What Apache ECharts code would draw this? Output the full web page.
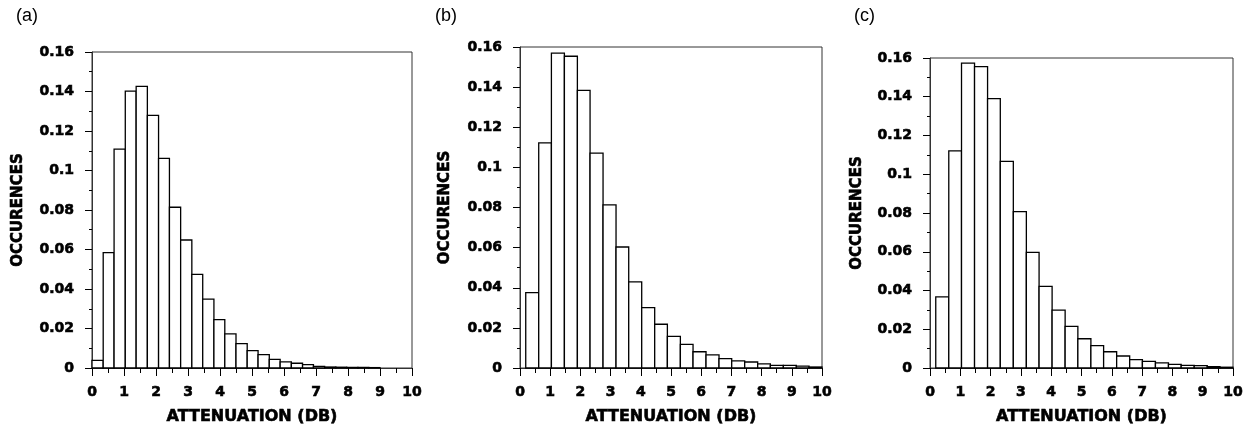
<!DOCTYPE html>
<html>
<head>
<meta charset="utf-8">
<script src="https://cdn.jsdelivr.net/npm/echarts@6/dist/echarts.min.js"></script>
<style>
  html, body { margin: 0; padding: 0; background: #fff; }
  #chart { width: 1258px; height: 437px; }
</style>
</head>
<body>
<div id="chart"></div>
<script>
// ---- Data ----
const panelLabels = ['(a)', '(b)', '(c)'];
const xTitle = 'ATTENUATION (DB)';
const yTitle = 'OCCURENCES';

// Bin edges (dB) for each panel
const edgesA = [0, 0.35, 0.69, 1.04, 1.38, 1.73, 2.08, 2.42, 2.77, 3.12, 3.46, 3.81, 4.15, 4.5,
                4.85, 5.19, 5.54, 5.88, 6.23, 6.58, 6.92, 7.27, 7.62, 7.96, 8.31, 8.65, 9.0];
const valuesA = [0.0039, 0.0584, 0.1108, 0.1402, 0.1426, 0.1279, 0.1061, 0.0814, 0.0648, 0.0474,
                 0.0349, 0.0245, 0.0173, 0.0123, 0.0088, 0.0068, 0.0044, 0.0031, 0.0024, 0.0017,
                 0.0008, 0.0005, 0.0004, 0.0003, 0.0003, 0.0002];

const edgesB = [0.19, 0.62, 1.04, 1.47, 1.9, 2.32, 2.75, 3.18, 3.6, 4.03, 4.46, 4.88, 5.31, 5.73,
                6.16, 6.59, 7.01, 7.44, 7.87, 8.29, 8.72, 9.15, 9.57, 10.0];
const valuesB = [0.0376, 0.1122, 0.1569, 0.1554, 0.1384, 0.1071, 0.0813, 0.0603, 0.0429, 0.0301,
                 0.0218, 0.0158, 0.0118, 0.0081, 0.0065, 0.0047, 0.0036, 0.0030, 0.0021, 0.0013,
                 0.0013, 0.0009, 0.0005];

const edgesC = [0.19, 0.62, 1.04, 1.47, 1.9, 2.32, 2.75, 3.18, 3.6, 4.03, 4.46, 4.88, 5.31, 5.73,
                6.16, 6.59, 7.01, 7.44, 7.87, 8.29, 8.72, 9.15, 9.57, 10.0];
const valuesC = [0.0367, 0.1121, 0.1574, 0.1555, 0.1390, 0.1066, 0.0807, 0.0597, 0.0421, 0.0299,
                 0.0215, 0.0151, 0.0115, 0.0084, 0.0062, 0.0043, 0.0034, 0.0026, 0.0019, 0.0014,
                 0.0012, 0.0007, 0.0004];

const panels = [
  { edges: edgesA, values: valuesA },
  { edges: edgesB, values: valuesB },
  { edges: edgesC, values: valuesC }
];

// ---- Layout ----
const grids = [
  { left: 92, top: 52, width: 320, height: 316 },
  { left: 520, top: 47, width: 302, height: 321 },
  { left: 930, top: 58, width: 303, height: 310 }
];
const labelPos = [ { left: 16, top: 7 }, { left: 435, top: 7 }, { left: 854, top: 7 } ];
const yNameGap = [66, 67, 65];

const axisColor = '#333';
const boldFont = {
  fontFamily: 'DejaVu Sans', fontWeight: 'bold', color: '#000',
  textBorderColor: '#000', textBorderWidth: 0.6
};

const chart = echarts.init(document.getElementById('chart'), null, { renderer: 'canvas' });

const option = {
  animation: false,
  backgroundColor: '#fff',
  title: panelLabels.map((t, i) => ({
    text: t,
    left: labelPos[i].left,
    top: labelPos[i].top,
    padding: 0,
    textStyle: { fontFamily: 'Liberation Sans', fontWeight: 'normal', fontSize: 18, color: '#000' }
  })),
  grid: grids.map(g => Object.assign({ show: true, borderColor: axisColor, borderWidth: 1, backgroundColor: 'transparent' }, g)),
  xAxis: grids.map((g, i) => ({
    type: 'value',
    gridIndex: i,
    min: 0, max: 10, interval: 1,
    name: xTitle,
    nameLocation: 'middle',
    nameGap: 41,
    nameTextStyle: Object.assign({ fontSize: 16 }, boldFont),
    axisLine: { show: true, onZero: false, lineStyle: { color: axisColor, width: 1 } },
    axisTick: { show: true, inside: false, length: 8, lineStyle: { color: '#000', width: 1 } },
    minorTick: { show: true, splitNumber: 2, length: 5, lineStyle: { color: '#000', width: 1 } },
    axisLabel: Object.assign({ fontSize: 14, margin: 17 }, boldFont),
    splitLine: { show: false },
    minorSplitLine: { show: false }
  })),
  yAxis: grids.map((g, i) => ({
    type: 'value',
    gridIndex: i,
    min: 0, max: 0.16, interval: 0.02,
    name: yTitle,
    nameLocation: 'middle',
    nameGap: yNameGap[i],
    nameTextStyle: Object.assign({ fontSize: 15 }, boldFont),
    axisLine: { show: true, lineStyle: { color: axisColor, width: 1 } },
    axisTick: { show: true, inside: false, length: 7, lineStyle: { color: '#000', width: 1 } },
    minorTick: { show: true, splitNumber: 2, length: 3, lineStyle: { color: '#000', width: 1 } },
    axisLabel: Object.assign({ fontSize: 14, margin: 18 }, boldFont),
    splitLine: { show: false },
    minorSplitLine: { show: false }
  })),
  series: panels.map((p, i) => ({
    type: 'custom',
    xAxisIndex: i,
    yAxisIndex: i,
    encode: { x: [0, 1], y: 2 },
    data: p.values.map((v, k) => [p.edges[k], p.edges[k + 1], v]),
    renderItem: function (params, api) {
      const a = api.coord([api.value(0), api.value(2)]);
      const b = api.coord([api.value(1), 0]);
      return {
        type: 'rect',
        shape: { x: a[0], y: a[1], width: b[0] - a[0], height: b[1] - a[1] },
        style: { fill: '#fff', stroke: '#000', lineWidth: 1.3 }
      };
    }
  }))
};

chart.setOption(option);
</script>
</body>
</html>
